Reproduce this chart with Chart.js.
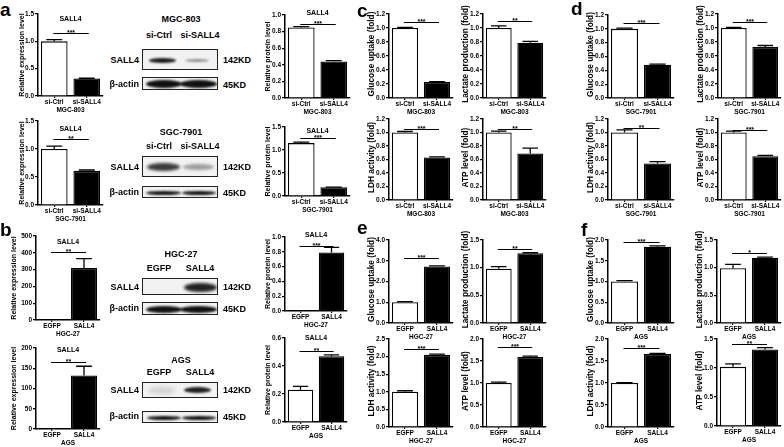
<!DOCTYPE html>
<html>
<head>
<meta charset="utf-8">
<script src="https://cdn.jsdelivr.net/npm/chart.js@4/dist/chart.umd.min.js"></script>
<style>
  html, body { margin: 0; padding: 0; background: #fff; }
  #fig { position: relative; width: 784px; height: 447px; overflow: hidden;
         font-family: 'Liberation Sans', Arial, sans-serif; font-weight: bold; color: #000; }
  #fig canvas { position: absolute; }
  .t { position: absolute; white-space: nowrap; line-height: 1; }
  .box { position: absolute; border: 1px solid #222; background: #f2f2f2; box-sizing: border-box; overflow: hidden; }
  .band { position: absolute; border-radius: 50%; }
</style>
</head>
<body>
<div id="fig"></div>
<script>
'use strict';

// ── Data ─────────────────────────────────────────────────────────────────────
const SI = ['si-Ctrl', 'si-SALL4'];
const OE = ['EGFP', 'SALL4'];

// a: SALL4 knockdown (mRNA / protein)
const mgcMrna = [1.00, 0.32],  mgcMrnaErr = [0.03, 0.005];
const sgcMrna = [1.00, 0.61],  sgcMrnaErr = [0.05, 0.015];
const mgcProt = [0.85, 0.44],  mgcProtErr = [0.01, 0.01];
const sgcProt = [1.15, 0.19],  sgcProtErr = [0.02, 0.005];

// b: SALL4 overexpression
const hgcMrna = [1, 310],      hgcMrnaErr = [0, 55];
const agsMrna = [1, 132],      agsMrnaErr = [0, 23];
const hgcProt = [0.004, 0.79], hgcProtErr = [0, 0.07];
const agsProt = [0.23, 0.47],  agsProtErr = [0.025, 0.01];

// c: MGC-803 glycolysis
const cGlucose = [1.00, 0.23], cGlucoseErr = [0.01, 0.005];
const cLactate = [1.00, 0.79], cLactateErr = [0.03, 0.02];
const cLdh     = [1.00, 0.63], cLdhErr     = [0.015, 0.01];
const cAtp     = [1.00, 0.69], cAtpErr     = [0.02, 0.08];

// d: SGC-7901 glycolysis
const dGlucose = [1.00, 0.48], dGlucoseErr = [0.01, 0.01];
const dLactate = [1.00, 0.73], dLactateErr = [0.01, 0.02];
const dLdh     = [1.00, 0.54], dLdhErr     = [0.04, 0.03];
const dAtp     = [1.00, 0.65], dAtpErr     = [0.02, 0.01];

// e: HGC-27 glycolysis
const eGlucose = [1.00, 2.72], eGlucoseErr = [0.03, 0.03];
const eLactate = [0.98, 1.26], eLactateErr = [0.04, 0.01];
const eLdh     = [1.00, 2.05], eLdhErr     = [0.03, 0.02];
const eAtp     = [1.00, 1.59], eAtpErr     = [0.02, 0.02];

// f: AGS glycolysis
const fGlucose = [1.00, 1.84], fGlucoseErr = [0.02, 0.02];
const fLactate = [0.99, 1.18], fLactateErr = [0.07, 0.01];
const fLdh     = [1.00, 1.66], fLdhErr     = [0.01, 0.01];
const fAtp     = [1.02, 1.32], fAtpErr     = [0.05, 0.03];

// ── Chart list (box = [axisX, rightX, topY, zeroY, yTitleOffset]) ───────────
const REL_EXP = 'Relative expression level', REL_PROT = 'Relative protein level';
const GLU = 'Glucose uptake (fold)', LAC = 'Lactate production (fold)';
const LDH = 'LDH activity (fold)', ATP = 'ATP level (fold)';

const CHARTS = [
  { v: mgcMrna, e: mgcMrnaErr, cats: SI, cell: 'MGC-803', yt: REL_EXP, max: 1.5, step: 0.5, dec: 1, stars: '***', sigAt: 1.15, title: 'SALL4', titleAt: 1.41, box: [38, 103, 14, 96, 16] },
  { v: sgcMrna, e: sgcMrnaErr, cats: SI, cell: 'SGC-7901', yt: REL_EXP, max: 1.5, step: 0.5, dec: 1, stars: '**', sigAt: 1.18, title: 'SALL4', titleAt: 1.36, box: [38, 103, 121, 205, 16] },
  { v: mgcProt, e: mgcProtErr, cats: SI, cell: 'MGC-803', yt: REL_PROT, max: 1.0, step: 0.2, dec: 1, stars: '***', sigAt: 0.89, title: 'SALL4', titleAt: 1.02, box: [285, 350, 15, 98, 17] },
  { v: sgcProt, e: sgcProtErr, cats: SI, cell: 'SGC-7901', yt: REL_PROT, max: 1.5, step: 0.5, dec: 1, stars: '***', sigAt: 1.26, title: 'SALL4', titleAt: 1.42, box: [285, 350, 127, 196, 17] },
  { v: hgcMrna, e: hgcMrnaErr, cats: OE, cell: 'HGC-27', yt: REL_EXP, max: 500, step: 100, dec: 0, stars: '**', sigAt: 405, title: 'SALL4', titleAt: 464, box: [36, 100, 236, 320, 22] },
  { v: agsMrna, e: agsMrnaErr, cats: OE, cell: 'AGS', yt: REL_EXP, max: 200, step: 50, dec: 0, stars: '**', sigAt: 166, title: 'SALL4', titleAt: 195, box: [36, 100, 348, 429, 22] },
  { v: hgcProt, e: hgcProtErr, cats: OE, cell: 'HGC-27', yt: REL_PROT, max: 1.0, step: 0.2, dec: 1, stars: '***', sigAt: 0.88, title: 'SALL4', titleAt: 1.03, box: [285, 347, 237, 311, 17] },
  { v: agsProt, e: agsProtErr, cats: OE, cell: 'AGS', yt: REL_PROT, max: 0.6, step: 0.2, dec: 1, stars: '**', sigAt: 0.51, title: 'SALL4', titleAt: 0.6, box: [285, 347, 338, 422, 17] },

  { v: cGlucose, e: cGlucoseErr, cats: SI, cell: 'MGC-803', yt: GLU, max: 1.2, step: 0.2, dec: 1, stars: '***', sigAt: 1.09, box: [389, 453, 14, 98, 17] },
  { v: cLactate, e: cLactateErr, cats: SI, cell: 'MGC-803', yt: LAC, max: 1.2, step: 0.2, dec: 1, stars: '**', sigAt: 1.1, box: [483, 546, 14, 98, 17] },
  { v: dGlucose, e: dGlucoseErr, cats: SI, cell: 'SGC-7901', yt: GLU, max: 1.2, step: 0.2, dec: 1, stars: '***', sigAt: 1.09, box: [608, 674, 15, 98, 17] },
  { v: dLactate, e: dLactateErr, cats: SI, cell: 'SGC-7901', yt: LAC, max: 1.2, step: 0.2, dec: 1, stars: '***', sigAt: 1.09, box: [718, 781, 14, 98, 17] },
  { v: cLdh, e: cLdhErr, cats: SI, cell: 'MGC-803', yt: LDH, max: 1.2, step: 0.2, dec: 1, stars: '***', sigAt: 1.05, box: [389, 453, 119, 200, 17] },
  { v: cAtp, e: cAtpErr, cats: SI, cell: 'MGC-803', yt: ATP, max: 1.2, step: 0.2, dec: 1, stars: '**', sigAt: 1.05, box: [483, 546, 119, 200, 17] },
  { v: dLdh, e: dLdhErr, cats: SI, cell: 'SGC-7901', yt: LDH, max: 1.2, step: 0.2, dec: 1, stars: '**', sigAt: 1.06, box: [608, 674, 119, 200, 17] },
  { v: dAtp, e: dAtpErr, cats: SI, cell: 'SGC-7901', yt: ATP, max: 1.2, step: 0.2, dec: 1, stars: '***', sigAt: 1.03, box: [718, 781, 119, 200, 17] },

  { v: eGlucose, e: eGlucoseErr, cats: OE, cell: 'HGC-27', yt: GLU, max: 4, step: 1, dec: 1, stars: '***', sigAt: 3.13, box: [389, 453, 240, 323, 17] },
  { v: eLactate, e: eLactateErr, cats: OE, cell: 'HGC-27', yt: LAC, max: 1.5, step: 0.5, dec: 1, stars: '**', sigAt: 1.34, box: [483, 546, 240, 323, 17] },
  { v: fGlucose, e: fGlucoseErr, cats: OE, cell: 'AGS', yt: GLU, max: 2, step: 0.5, dec: 1, stars: '***', sigAt: 1.95, box: [608, 674, 240, 323, 17] },
  { v: fLactate, e: fLactateErr, cats: OE, cell: 'AGS', yt: LAC, max: 1.5, step: 0.5, dec: 1, stars: '*', sigAt: 1.27, box: [717, 781, 240, 323, 17] },
  { v: eLdh, e: eLdhErr, cats: OE, cell: 'HGC-27', yt: LDH, max: 2.5, step: 0.5, dec: 1, stars: '***', sigAt: 2.22, box: [389, 453, 339, 427, 17] },
  { v: eAtp, e: eAtpErr, cats: OE, cell: 'HGC-27', yt: ATP, max: 2, step: 0.5, dec: 1, stars: '***', sigAt: 1.82, box: [483, 546, 339, 427, 17] },
  { v: fLdh, e: fLdhErr, cats: OE, cell: 'AGS', yt: LDH, max: 2, step: 0.5, dec: 1, stars: '***', sigAt: 1.8, box: [608, 674, 339, 427, 17] },
  { v: fAtp, e: fAtpErr, cats: OE, cell: 'AGS', yt: ATP, max: 1.5, step: 0.5, dec: 1, stars: '**', sigAt: 1.41, box: [717, 781, 339, 426, 17] },
];

const FAMILY = "'Liberation Sans', Arial, sans-serif";
const fig = document.getElementById('fig');

// ── Page helpers ─────────────────────────────────────────────────────────────
function el(cls, css, txt) {
  const d = document.createElement('div');
  d.className = cls;
  Object.assign(d.style, css);
  if (txt != null) d.textContent = txt;
  fig.appendChild(d);
  return d;
}

function text(s, x, y, size, align) {
  const d = el('t', { left: x + 'px', top: y + 'px', fontSize: size + 'px' }, s);
  const tx = align === 'right' ? '-100%' : align === 'left' ? '0' : '-50%';
  d.style.transform = `translate(${tx},-50%)`;
}

// ── Error bars, significance bracket, titles ────────────────────────────────
const extras = {
  id: 'extras',
  afterDatasetsDraw(chart, args, o) {
    const { ctx, chartArea: ca, scales: { y } } = chart;
    const bars = chart.getDatasetMeta(0).data;
    ctx.save();
    ctx.strokeStyle = '#000';
    ctx.fillStyle = '#000';
    ctx.lineWidth = 1.3;
    bars.forEach((b, i) => {
      const err = o.err[i];
      if (!err) return;
      const y0 = y.getPixelForValue(o.values[i]);
      const y1 = y.getPixelForValue(o.values[i] + err);
      const hw = b.width * 0.3;
      ctx.beginPath();
      ctx.moveTo(b.x, y0); ctx.lineTo(b.x, y1);
      ctx.moveTo(b.x - hw, y1); ctx.lineTo(b.x + hw, y1);
      ctx.stroke();
    });
    // bracket + stars
    const sy = Math.round(y.getPixelForValue(o.sigAt)) + 0.5;
    const x0 = bars[0].x - 1, x1 = bars[1].x + 2;
    ctx.lineWidth = 1;
    ctx.beginPath(); ctx.moveTo(x0, sy); ctx.lineTo(x1, sy); ctx.stroke();
    ctx.font = `bold 7px ${FAMILY}`;
    ctx.textAlign = 'center';
    ctx.textBaseline = 'alphabetic';
    ctx.fillText(o.stars, (x0 + x1) / 2, sy + 1);
    if (o.title) {
      ctx.textBaseline = 'middle';
      ctx.fillText(o.title, (ca.left + ca.right) / 2, y.getPixelForValue(o.titleAt));
    }
    // rotated y title
    ctx.font = `bold ${o.ytSize}px ${FAMILY}`;
    ctx.translate(ca.left - o.ytOff, (ca.top + ca.bottom) / 2 - o.ytLift);
    ctx.rotate(-Math.PI / 2);
    ctx.textBaseline = 'middle';
    ctx.fillText(o.yt, 0, 0);
    ctx.restore();
  }
};

// ── Build one chart ──────────────────────────────────────────────────────────
const L = 26, T = 14, H = 18, R = 2;

function makeChart(c) {
  const [ax, right, top, zero, ytOff] = c.box;
  const cv = document.createElement('canvas');
  const w = L + (right - ax) + R;
  const h = T + (zero - top) + H;
  cv.width = w; cv.height = h;
  cv.style.left = (ax - L) + 'px';
  cv.style.top = (top - T) + 'px';
  cv.style.width = w + 'px'; cv.style.height = h + 'px';
  fig.appendChild(cv);

  const small = { family: FAMILY, weight: 'bold', size: 6.5 };
  new Chart(cv, {
    type: 'bar',
    data: {
      labels: c.cats,
      datasets: [{
        data: c.v,
        backgroundColor: ['#fff', '#000'],
        borderColor: '#000',
        borderWidth: 1.3,
        barPercentage: 0.82,
        categoryPercentage: 1,
      }],
    },
    plugins: [extras],
    options: {
      responsive: false,
      animation: false,
      devicePixelRatio: 1,
      layout: { padding: { top: T, right: R, left: 0, bottom: 0 } },
      plugins: {
        legend: { display: false },
        tooltip: { enabled: false },
        extras: {
          values: c.v, err: c.e, stars: c.stars, sigAt: c.sigAt,
          title: c.title, titleAt: c.titleAt, yt: c.yt,
          ytOff: ytOff, ytSize: c.title ? 7 : 8.3, ytLift: c.title ? 0 : 2,
        },
      },
      scales: {
        x: {
          grid: { display: true, drawOnChartArea: false, offset: false, tickLength: 2, color: '#000', lineWidth: 1.2 },
          border: { color: '#000', width: 1.5 },
          ticks: { color: '#000', font: small, padding: 0, maxRotation: 0, autoSkip: false },
          title: { display: true, text: c.cell, color: '#000', font: small, padding: 0 },
          afterFit: s => { s.height = H; },
        },
        y: {
          min: 0, max: c.max,
          grid: { drawOnChartArea: false, tickLength: 3, color: '#000', lineWidth: 1.2 },
          border: { color: '#000', width: 1.5 },
          ticks: { stepSize: c.step, color: '#000', font: small, padding: 1,
                   callback: v => v.toFixed(c.dec) },
          afterFit: s => { s.width = L; },
        },
      },
    },
  });
}

CHARTS.forEach(makeChart);

// ── Western blots ────────────────────────────────────────────────────────────
function blotBox(x, y, w, h, bands) {
  const b = el('box', { left: x + 'px', top: y + 'px', width: w + 'px', height: h + 'px' });
  bands.forEach(([bx, by, bw, bh, col, blur]) => {
    const d = document.createElement('div');
    d.className = 'band';
    Object.assign(d.style, {
      left: (bx - x) + 'px', top: (by - y) + 'px', width: bw + 'px', height: bh + 'px',
      background: col, filter: `blur(${blur}px)`,
    });
    b.appendChild(d);
  });
}

function blotPanel(p) {
  text(p.cell, 181, p.yCell, 9);
  text(p.lanes[0], 159, p.yLane, 9);
  text(p.lanes[1], 200, p.yLane, 9);
  text('SALL4', 139, p.ySall, 9, 'right');
  text('β-actin', 139, p.yAct, 9, 'right');
  text('142KD', 223, p.ySall, 9, 'left');
  text('45KD', 223, p.yAct + 1, 9, 'left');
  blotBox(142, p.sallBox[0], 76, p.sallBox[1], p.sallBands);
  blotBox(142, p.actBox[0], 76, p.actBox[1], p.actBands);
}

blotPanel({ cell: 'MGC-803', lanes: SI, yCell: 19, yLane: 35, ySall: 60, yAct: 84,
  sallBox: [49, 21], actBox: [77, 13],
  sallBands: [[148, 57, 27, 5, '#1a1a1a', 1], [184, 58, 24, 3, '#8a8a8a', 1]],
  actBands: [[145, 79, 36, 8, '#111', 1], [179, 79, 37, 8, '#111', 1]] });

blotPanel({ cell: 'SGC-7901', lanes: SI, yCell: 132, yLane: 146, ySall: 167, yAct: 192,
  sallBox: [156, 21], actBox: [186, 12],
  sallBands: [[146, 162, 33, 8, '#3a3a3a', 1.6], [182, 163, 31, 6, '#9a9a9a', 1.6]],
  actBands: [[145, 190, 35, 4, '#111', 0.8], [181, 190, 34, 4, '#111', 0.8]] });

blotPanel({ cell: 'HGC-27', lanes: OE, yCell: 254, yLane: 268, ySall: 287, yAct: 308,
  sallBox: [278, 17], actBox: [302, 13],
  sallBands: [[183, 282, 33, 9, '#222', 1.6]],
  actBands: [[145, 305, 36, 7, '#111', 1], [179, 305, 37, 7, '#111', 1]] });

blotPanel({ cell: 'AGS', lanes: OE, yCell: 360, yLane: 372, ySall: 390, yAct: 416,
  sallBox: [382, 16], actBox: [411, 12],
  sallBands: [[147, 386, 27, 7, '#cfcfcf', 2], [183, 386, 27, 6, '#1e1e1e', 1.2]],
  actBands: [[146, 415, 34, 4, '#111', 0.8], [181, 415, 34, 4, '#111', 0.8]] });

// ── Panel letters ────────────────────────────────────────────────────────────
[['a', 0, 9], ['b', 0, 229], ['c', 357, 10], ['d', 571, 8], ['e', 357, 227], ['f', 581, 229]]
  .forEach(([s, x, y]) => text(s, x, y, 19, 'left'));
</script>
</body>
</html>
